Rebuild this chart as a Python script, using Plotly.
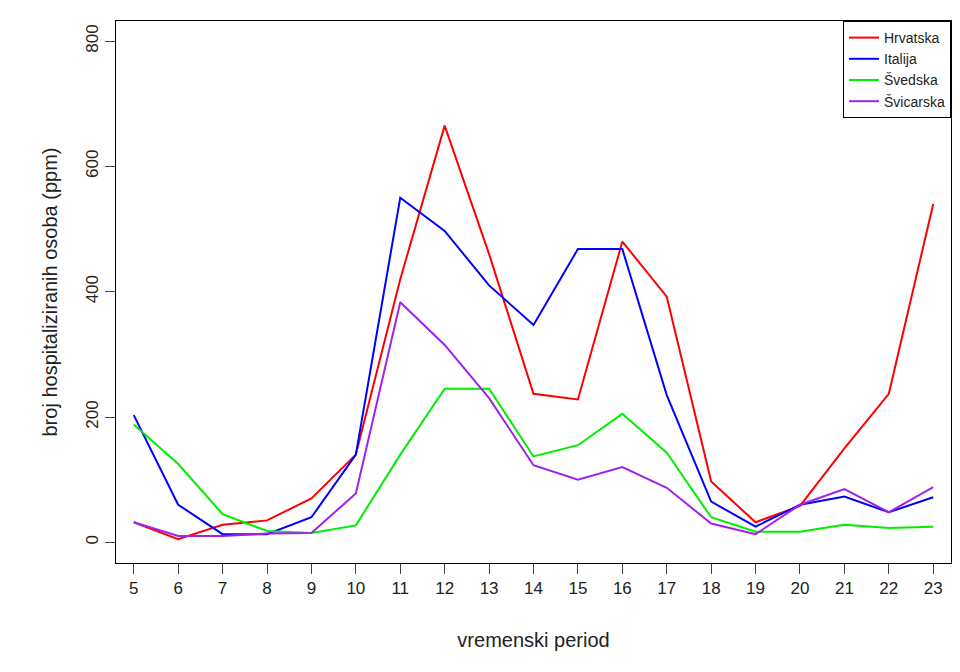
import plotly.graph_objects as go

periods = list(range(5, 24))
hrvatska = [32, 5, 28, 35, 70, 140, 420, 665, 460, 237, 228, 480, 392, 97, 32, 58, 150, 237, 540]
italija = [203, 60, 13, 13, 40, 140, 550, 497, 410, 347, 468, 468, 235, 65, 25, 60, 73, 48, 72]
svedska = [188, 125, 45, 18, 15, 27, 140, 245, 245, 137, 155, 205, 143, 40, 17, 17, 28, 23, 25]
svicarska = [32, 10, 10, 14, 15, 78, 383, 315, 230, 123, 100, 120, 87, 30, 13, 60, 85, 48, 88]

series = [
    ("Hrvatska", hrvatska, "#ff0000"),
    ("Italija", italija, "#0000ff"),
    ("Švedska", svedska, "#00ee00"),
    ("Švicarska", svicarska, "#a020f0"),
]

fig = go.Figure()
for name, vals, col in series:
    fig.add_trace(go.Scatter(x=periods, y=vals, mode="lines", name=name,
                             line=dict(color=col, width=2)))

fig.update_layout(
    width=945, height=660,
    plot_bgcolor="white", paper_bgcolor="white",
    font=dict(family="Liberation Sans, Arial", size=17, color="#222"),
    margin=dict(l=108, r=2, t=13, b=105),
    showlegend=True,
    legend=dict(x=1, y=1, xanchor="right", yanchor="top", bordercolor="black",
                borderwidth=1, bgcolor="white", font=dict(size=14),
                tracegroupgap=0),
)
fig.update_xaxes(range=[4.6, 23.4], tickvals=periods, ticks="outside", ticklen=10,
                 showgrid=False, zeroline=False, showline=True, linecolor="black",
                 mirror=True, title=dict(text="vremenski period", standoff=35))
fig.update_yaxes(range=[-33, 832], tickvals=[0, 200, 400, 600, 800], ticks="outside",
                 ticklen=10, tickangle=-90, showgrid=False, zeroline=False,
                 showline=True, linecolor="black", mirror=True,
                 title=dict(text="broj hospitaliziranih osoba (ppm)", standoff=20))
fig.write_html("out.html")
